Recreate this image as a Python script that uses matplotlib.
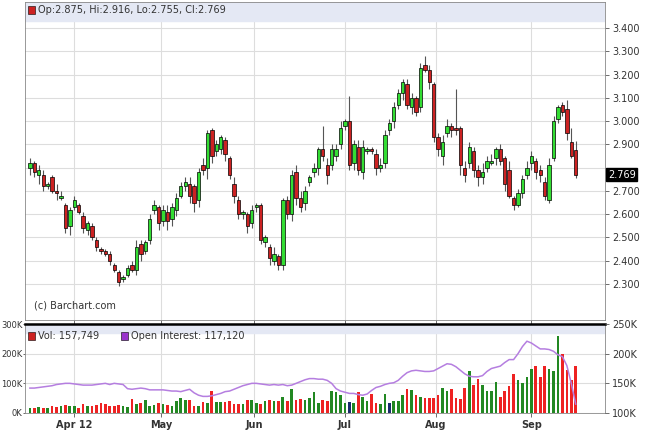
import numpy as np
import matplotlib.pyplot as plt
from matplotlib.patches import Rectangle

# open / close per bar
opens = [2.80, 2.82, 2.77, 2.77, 2.72, 2.76, 2.70, 2.67, 2.64, 2.55,
         2.63, 2.64, 2.59, 2.53, 2.55, 2.49, 2.45, 2.44, 2.43, 2.38,
         2.35, 2.32, 2.34, 2.38, 2.36, 2.47, 2.44, 2.49, 2.62, 2.63,
         2.57, 2.61, 2.58, 2.62, 2.68, 2.72, 2.73, 2.72, 2.66, 2.81,
         2.80, 2.96, 2.87, 2.88, 2.92, 2.84, 2.73, 2.66, 2.60, 2.60,
         2.56, 2.63, 2.64, 2.48, 2.46, 2.40, 2.42, 2.38, 2.66, 2.60,
         2.78, 2.67, 2.65, 2.74, 2.78, 2.80, 2.88, 2.81, 2.81, 2.85,
         2.90, 2.98, 3.00, 2.82, 2.89, 2.78, 2.87, 2.88, 2.86, 2.80,
         2.82, 2.96, 3.00, 3.07, 3.12, 3.16, 3.06, 3.10, 3.06, 3.24,
         3.22, 3.16, 2.93, 2.85, 2.95, 2.98, 2.97, 2.97, 2.80, 2.82,
         2.87, 2.79, 2.76, 2.80, 2.82, 2.84, 2.88, 2.84, 2.79, 2.67,
         2.64, 2.69, 2.77, 2.82, 2.83, 2.79, 2.74, 2.66, 2.84, 3.01,
         3.07, 3.05, 2.91, 2.875]
closes = [2.82, 2.78, 2.79, 2.72, 2.73, 2.70, 2.69, 2.68, 2.54, 2.62,
          2.66, 2.61, 2.54, 2.56, 2.50, 2.46, 2.44, 2.43, 2.40, 2.36,
          2.31, 2.33, 2.37, 2.36, 2.46, 2.43, 2.48, 2.58, 2.64, 2.56,
          2.62, 2.57, 2.63, 2.67, 2.72, 2.74, 2.68, 2.65, 2.78, 2.79,
          2.95, 2.85, 2.90, 2.93, 2.86, 2.77, 2.68, 2.60, 2.61, 2.55,
          2.62, 2.64, 2.49, 2.50, 2.41, 2.43, 2.38, 2.66, 2.60, 2.77,
          2.67, 2.63, 2.70, 2.76, 2.80, 2.88, 2.85, 2.77, 2.88, 2.88,
          2.97, 3.00, 2.81, 2.90, 2.79, 2.89, 2.88, 2.87, 2.80, 2.81,
          2.94, 2.99, 3.06, 3.12, 3.17, 3.07, 3.10, 3.04, 3.23, 3.22,
          3.17, 2.93, 2.88, 2.91, 2.98, 2.96, 2.96, 2.81, 2.77, 2.89,
          2.79, 2.76, 2.78, 2.83, 2.83, 2.88, 2.83, 2.73, 2.68, 2.64,
          2.69, 2.75, 2.80, 2.85, 2.78, 2.77, 2.68, 2.81, 3.00, 3.06,
          3.04, 2.95, 2.85, 2.769]
up_wick = [0.02, 0.01, 0.02, 0.02, 0.01, 0.01, 0.03, 0.02, 0.01, 0.01,
           0.02, 0.01, 0.02, 0.01, 0.01, 0.01, 0.01, 0.01, 0.01, 0.01,
           0.01, 0.01, 0.01, 0.02, 0.03, 0.02, 0.01, 0.02, 0.02, 0.01,
           0.02, 0.03, 0.02, 0.02, 0.02, 0.02, 0.03, 0.01, 0.02, 0.03,
           0.01, 0.01, 0.02, 0.01, 0.01, 0.01, 0.03, 0.02, 0.01, 0.01,
           0.02, 0.01, 0.01, 0.01, 0.01, 0.03, 0.01, 0.01, 0.02, 0.02,
           0.03, 0.03, 0.02, 0.01, 0.02, 0.01, 0.10, 0.03, 0.02, 0.02,
           0.03, 0.01, 0.11, 0.02, 0.03, 0.03, 0.01, 0.01, 0.02, 0.03,
           0.02, 0.02, 0.02, 0.02, 0.01, 0.02, 0.02, 0.01, 0.02, 0.04,
           0.02, 0.01, 0.02, 0.03, 0.03, 0.01, 0.17, 0.01, 0.03, 0.02,
           0.02, 0.02, 0.04, 0.02, 0.03, 0.01, 0.02, 0.01, 0.04, 0.01,
           0.02, 0.02, 0.03, 0.02, 0.01, 0.02, 0.02, 0.03, 0.02, 0.01,
           0.01, 0.04, 0.06, 0.041]
dn_wick = [0.03, 0.02, 0.04, 0.02, 0.01, 0.01, 0.03, 0.01, 0.02, 0.04,
           0.01, 0.01, 0.02, 0.02, 0.01, 0.02, 0.01, 0.01, 0.02, 0.01,
           0.02, 0.01, 0.01, 0.01, 0.02, 0.03, 0.01, 0.02, 0.02, 0.03,
           0.02, 0.04, 0.03, 0.03, 0.01, 0.02, 0.03, 0.04, 0.03, 0.02,
           0.05, 0.03, 0.02, 0.02, 0.03, 0.02, 0.03, 0.02, 0.02, 0.03,
           0.02, 0.02, 0.02, 0.02, 0.03, 0.02, 0.02, 0.02, 0.02, 0.03,
           0.03, 0.02, 0.03, 0.02, 0.02, 0.03, 0.02, 0.04, 0.02, 0.02,
           0.02, 0.02, 0.02, 0.03, 0.02, 0.03, 0.01, 0.01, 0.03, 0.02,
           0.02, 0.02, 0.03, 0.02, 0.03, 0.02, 0.03, 0.02, 0.02, 0.01,
           0.03, 0.02, 0.03, 0.04, 0.02, 0.03, 0.02, 0.04, 0.03, 0.02,
           0.03, 0.04, 0.03, 0.02, 0.01, 0.03, 0.02, 0.03, 0.01, 0.02,
           0.01, 0.02, 0.02, 0.03, 0.03, 0.03, 0.02, 0.01, 0.01, 0.02,
           0.02, 0.03, 0.01, 0.014]

volume = [18, 17, 20, 16, 18, 25, 20, 25, 28, 25,
          22, 18, 30, 22, 25, 28, 35, 30, 22, 25,
          28, 22, 20, 48, 30, 35, 45, 22, 28, 35,
          30, 28, 25, 40, 50, 45, 45, 22, 25, 38,
          35, 75, 38, 38, 38, 40, 30, 30, 30, 45,
          45, 35, 32, 40, 45, 42, 42, 55, 40, 80,
          45, 48, 45, 50, 70, 35, 45, 42, 75, 70,
          60, 35, 38, 35, 70, 55, 40, 65, 35, 30,
          65, 35, 40, 40, 62, 80, 78, 60, 55, 50,
          50, 50, 60, 85, 75, 80, 50, 48, 85, 140,
          95, 115, 95, 75, 75, 105, 55, 75, 90, 130,
          110, 100, 120, 150, 160, 120, 160, 150, 140, 260,
          200, 145, 112, 160]
vol_navy = [72, 81]

open_int = [142, 142, 143, 144, 145, 146, 148, 149, 150, 150,
            149, 148, 147, 147, 147, 148, 149, 150, 148, 150,
            149, 148, 141, 140, 141, 142, 141, 139, 139, 139,
            139, 138, 137, 137, 136, 138, 140, 134, 130, 128,
            128, 129, 131, 133, 136, 137, 140, 143, 146, 148,
            150, 150, 149, 148, 147, 148, 147, 148, 146, 147,
            150, 153, 156, 158, 158, 157, 157, 155, 150, 141,
            137, 135, 133, 133, 131, 130, 132, 138, 143, 145,
            148, 150, 151, 155, 162, 168, 171, 172, 171, 170,
            170, 171, 175, 179, 183, 182, 178, 172, 166, 162,
            161, 161, 163, 170, 175, 177, 179, 185, 190, 190,
            200, 212, 221, 218, 213, 208, 208, 207, 204, 198,
            195, 180, 150, 115]

month_pos = [10, 29.5, 50.5, 71, 91.5, 113]
month_lab = ['Apr 12', 'May', 'Jun', 'Jul', 'Aug', 'Sep']

GREEN = '#33dd33'
RED = '#cc2222'
GRID = '#dddddd'
TXT = '#333333'

W, H = 645, 441
fig = plt.figure(figsize=(W / 100, H / 100), dpi=100)
L, R = 25 / W, 605 / W
ax = fig.add_axes([L, 1 - 320 / H, R - L, 318 / H])
axv = fig.add_axes([L, 1 - 413 / H, R - L, 89 / H])

n = len(closes)
xlim = (-1.1, n + 5.6)

# price panel
for i in range(n):
    o, c = opens[i], closes[i]
    col = GREEN if c >= o else RED
    hi = max(o, c) + up_wick[i]
    lo = min(o, c) - dn_wick[i]
    ax.vlines(i, lo, hi, color='#555555', lw=0.8, zorder=2)
    ax.add_patch(Rectangle((i - 0.38, min(o, c)), 0.76, max(abs(c - o), 0.004),
                           facecolor=col, edgecolor='black', lw=0.5, zorder=3))

ax.set_xlim(*xlim)
ax.set_ylim(2.145, 3.512)
ax.yaxis.tick_right()
yt = np.arange(2.3, 3.41, 0.1)
ax.set_yticks(yt)
ax.set_yticklabels(['' if abs(v - 2.8) < 1e-6 else '%.3f' % v for v in yt],
                   fontsize=7, color=TXT)
ax.set_xticks(month_pos)
ax.set_xticklabels([])
ax.tick_params(length=3, width=0.6, colors='#555555', labelcolor=TXT, pad=2)
ax.grid(True, color=GRID, lw=0.8)
ax.set_axisbelow(True)
for s in ax.spines.values():
    s.set_color('#888888')
    s.set_linewidth(0.6)
ax.axhspan(3.43, 3.512, color='#e4e8f4', zorder=1)
ax.add_patch(Rectangle((0.005, 0.962), 0.012, 0.025, transform=ax.transAxes,
                       facecolor=RED, edgecolor='black', lw=0.4, zorder=5))
ax.text(0.022, 0.974, 'Op:2.875, Hi:2.916, Lo:2.755, Cl:2.769', transform=ax.transAxes,
        fontsize=7, color=TXT, va='center', zorder=5)
ax.text(0.015, 0.03, '(c) Barchart.com', transform=ax.transAxes, fontsize=7,
        color=TXT, va='bottom')
ax.text(1.005, (closes[-1] - 2.145) / (3.512 - 2.145), '%.3f' % closes[-1],
        transform=ax.transAxes, fontsize=7, color='white', va='center', ha='left',
        bbox=dict(boxstyle='square,pad=0.15', fc='black', ec='black'))

# volume panel
vcols = []
for i in range(n):
    if i in vol_navy:
        vcols.append('#1a2a6c')
    else:
        vcols.append('#228822' if closes[i] >= opens[i] else '#ee2222')
axv.bar(np.arange(n), np.array(volume) * 1000, width=0.6, color=vcols, zorder=3)
axv.set_xlim(*xlim)
axv.set_ylim(0, 300000)
axv.set_yticks([0, 100000, 200000, 300000])
axv.set_yticklabels(['0K', '100K', '200K', '300K'], fontsize=6, color=TXT)
axv.set_xticks(month_pos)
axv.set_xticklabels(month_lab, fontsize=7, color=TXT, fontweight='bold')
axv.tick_params(length=3, width=0.6, colors='#555555', labelcolor=TXT, pad=2)
axv.tick_params(axis='y', length=1.5, pad=0.5)
axv.grid(True, color=GRID, lw=0.8)
axv.set_axisbelow(True)
for s in axv.spines.values():
    s.set_color('#888888')
    s.set_linewidth(0.6)
axv.spines['top'].set_color('black')
axv.spines['top'].set_linewidth(1.8)
axv.axhspan(268000, 300000, color='#e4e8f4', zorder=1)

axo = axv.twinx()
axo.plot(np.arange(len(open_int)), np.array(open_int) * 1000, color='#b57ee0', lw=1.1, zorder=4)
axo.set_ylim(100000, 250000)
axo.set_yticks([100000, 150000, 200000, 250000])
axo.set_yticklabels(['100K', '150K', '200K', '250K'], fontsize=7, color=TXT)
axo.tick_params(length=3, width=0.6, colors='#555555', labelcolor=TXT, pad=2)
for s in axo.spines.values():
    s.set_visible(False)

axv.add_patch(Rectangle((0.005, 0.82), 0.012, 0.09, transform=axv.transAxes,
                        facecolor=RED, edgecolor='black', lw=0.4, zorder=5))
axv.text(0.022, 0.865, 'Vol: 157,749', transform=axv.transAxes, fontsize=7,
         color=TXT, va='center', zorder=5)
axv.add_patch(Rectangle((0.165, 0.82), 0.012, 0.09, transform=axv.transAxes,
                        facecolor='#9933cc', edgecolor='black', lw=0.4, zorder=5))
axv.text(0.182, 0.865, 'Open Interest: 117,120', transform=axv.transAxes, fontsize=7,
         color=TXT, va='center', zorder=5)

fig.savefig('out.png', dpi=100)
